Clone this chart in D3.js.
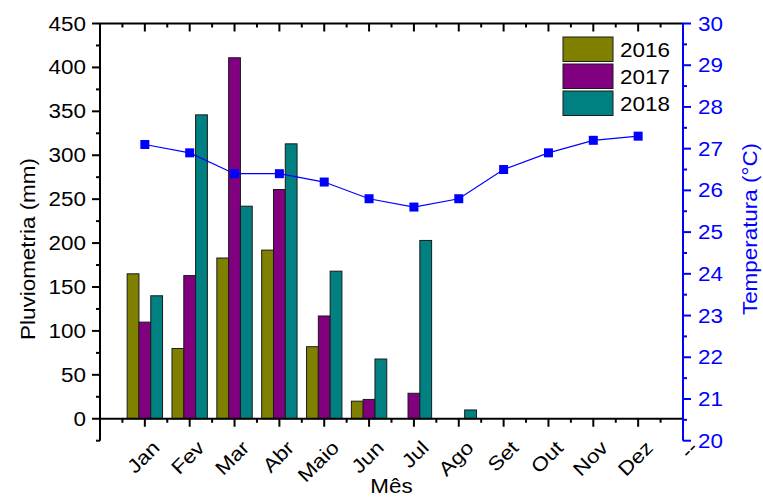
<!DOCTYPE html>
<html>
<head>
<meta charset="utf-8">
<script src="https://cdn.jsdelivr.net/npm/d3@7/dist/d3.min.js"></script>
<style>
  html, body { margin: 0; padding: 0; background: #fff; }
  svg { display: block; }
  text { font-family: "Liberation Sans", Arial, sans-serif; }
</style>
</head>
<body>
<svg id="chart" width="763" height="498"></svg>
<script>
// Monthly rainfall (mm) per year and mean temperature (°C)
const months = ["Jan", "Fev", "Mar", "Abr", "Maio", "Jun", "Jul", "Ago", "Set", "Out", "Nov", "Dez"];
const years = ["2016", "2017", "2018"];
const rain2016 = [165, 80, 183, 192, 82, 20, 0, 0, 0, 0, 0, 0];
const rain2017 = [110, 163, 411, 261, 117, 22, 29, 0, 0, 0, 0, 0];
const rain2018 = [140, 346, 242, 313, 168, 68, 203, 10, 0, 0, 0, 0];
const temperature = [27.1, 26.9, 26.4, 26.4, 26.2, 25.8, 25.6, 25.8, 26.5, 26.9, 27.2, 27.3];
const rainTicks = [0, 50, 100, 150, 200, 250, 300, 350, 400, 450];
const tempTicks = [20, 21, 22, 23, 24, 25, 26, 27, 28, 29, 30];
const colors = ["#808000", "#800080", "#008080"];
const series = [rain2016, rain2017, rain2018];

const svg = d3.select("#chart");
const FS = 19.5, SX = 1.15; // font size and horizontal stretch of the labels

const plotL = 100, plotR = 683, plotT = 23.5, plotB = 440.7;
const x = d3.scaleLinear().domain([0, 13]).range([plotL, plotR]);
const yL = d3.scaleLinear().domain([-25, 450]).range([plotB, plotT]);
const yR = d3.scaleLinear().domain([20, 30]).range([plotB, plotT]);
const y0 = yL(0);
const barW = 0.263;

function label(g, txt, tx, ty, rot, anchor, color) {
  return g.append("text")
    .attr("transform", `translate(${tx},${ty}) rotate(${rot}) scale(${SX},1)`)
    .attr("text-anchor", anchor)
    .attr("font-size", FS)
    .attr("fill", color || "#000")
    .text(txt);
}

// Bars
const bars = svg.append("g");
series.forEach((vals, s) => {
  bars.selectAll(null)
    .data(vals.map((v, i) => ({ v, i: i + 1 })).filter(d => d.v > 0))
    .join("rect")
    .attr("x", d => x(d.i + (s - 1.5) * barW))
    .attr("width", d => x(d.i + (s - 0.5) * barW) - x(d.i + (s - 1.5) * barW))
    .attr("y", d => yL(d.v))
    .attr("height", d => y0 - yL(d.v))
    .attr("fill", colors[s])
    .attr("stroke", "#1a1a1a")
    .attr("stroke-width", 1);
});

// Axes
const ax = svg.append("g").attr("stroke", "#000").attr("stroke-width", 2).attr("fill", "none");
// bottom axis at zero rainfall
ax.append("line").attr("x1", plotL).attr("x2", plotR).attr("y1", y0).attr("y2", y0);
// top axis
ax.append("line").attr("x1", plotL).attr("x2", plotR).attr("y1", plotT).attr("y2", plotT);
// left axis
ax.append("line").attr("x1", plotL).attr("x2", plotL).attr("y1", plotT).attr("y2", plotB);

const majorX = d3.range(1, 13);
const minorX = d3.range(0.5, 13, 1);
majorX.forEach(i => {
  ax.append("line").attr("x1", x(i)).attr("x2", x(i)).attr("y1", y0).attr("y2", y0 + 8);
  ax.append("line").attr("x1", x(i)).attr("x2", x(i)).attr("y1", plotT).attr("y2", plotT + 8);
});
minorX.forEach(i => {
  ax.append("line").attr("x1", x(i)).attr("x2", x(i)).attr("y1", y0).attr("y2", y0 + 4);
  ax.append("line").attr("x1", x(i)).attr("x2", x(i)).attr("y1", plotT).attr("y2", plotT + 4);
});
rainTicks.forEach(v => {
  ax.append("line").attr("x1", plotL - 8).attr("x2", plotL).attr("y1", yL(v)).attr("y2", yL(v));
});
d3.range(-25, 450, 50).forEach(v => {
  ax.append("line").attr("x1", plotL - 4).attr("x2", plotL).attr("y1", yL(v)).attr("y2", yL(v));
});

// right (temperature) axis
const axR = svg.append("g").attr("stroke", "#0000ff").attr("stroke-width", 2);
axR.append("line").attr("x1", plotR).attr("x2", plotR).attr("y1", plotT).attr("y2", plotB);
tempTicks.forEach(v => {
  axR.append("line").attr("x1", plotR).attr("x2", plotR + 8).attr("y1", yR(v)).attr("y2", yR(v));
});
d3.range(20.5, 30, 1).forEach(v => {
  axR.append("line").attr("x1", plotR).attr("x2", plotR + 4).attr("y1", yR(v)).attr("y2", yR(v));
});

// Tick labels
const tl = svg.append("g");
rainTicks.forEach(v => label(tl, String(v), 86, yL(v) + 7, 0, "end"));
tempTicks.forEach(v => label(tl, String(v), 698, yR(v) + 7, 0, "start", "#0000ff"));
months.concat(["--"]).forEach((m, i) => label(tl, m, x(i + 1) + 16, 449, -45, "end"));

// Axis titles
label(svg, "Pluviometria (mm)", 35, 249, -90, "middle");
label(svg, "Temperatura (°C)", 757, 229, -90, "middle", "#0000ff");
label(svg, "Mês", (plotL + plotR) / 2, 493, 0, "middle");

// Temperature line
const line = d3.line().x((d, i) => x(i + 1)).y(d => yR(d));
svg.append("path").datum(temperature)
  .attr("d", line).attr("fill", "none").attr("stroke", "#0000ff").attr("stroke-width", 1.2);
svg.append("g").selectAll("rect").data(temperature).join("rect")
  .attr("x", (d, i) => x(i + 1) - 4.5).attr("y", d => yR(d) - 4.5)
  .attr("width", 9).attr("height", 9).attr("fill", "#0000ff");

// Legend
const lg = svg.append("g");
years.forEach((yr, s) => {
  const ly = 37 + s * 27;
  lg.append("rect").attr("x", 563).attr("y", ly).attr("width", 50).attr("height", 24.5)
    .attr("fill", colors[s]).attr("stroke", "#1a1a1a").attr("stroke-width", 1);
  label(lg, yr, 620, ly + 19.5, 0, "start");
});
</script>
</body>
</html>
